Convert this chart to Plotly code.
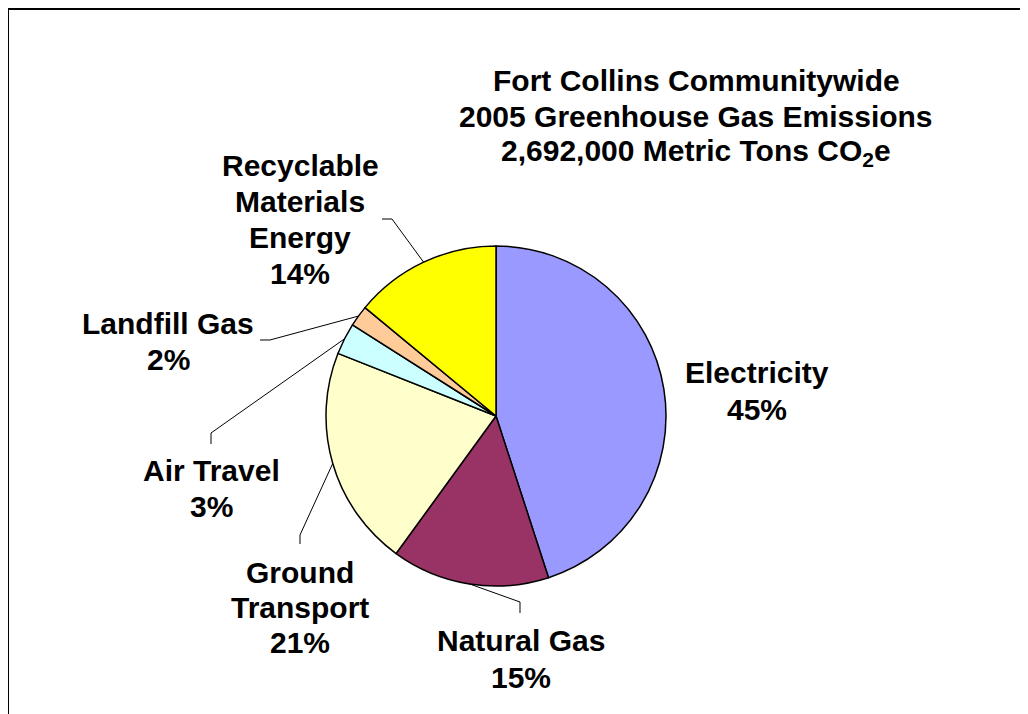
import math
import plotly.graph_objects as go

# ---- data ----
categories = ["Electricity", "Natural Gas", "Ground Transport", "Air Travel",
              "Landfill Gas", "Recyclable Materials Energy"]
shares = [45, 15, 21, 3, 2, 14]
label_lines = [["Electricity", "45%"], ["Natural Gas", "15%"], ["Ground", "Transport", "21%"],
               ["Air Travel", "3%"], ["Landfill Gas", "2%"],
               ["Recyclable", "Materials", "Energy", "14%"]]
colors = ["#9999FF", "#993366", "#FFFFCC", "#CCFFFF", "#FFCC99", "#FFFF00"]
title_lines = ["Fort Collins Communitywide", "2005 Greenhouse Gas Emissions",
               "2,692,000 Metric Tons CO<sub>2</sub>e"]

OFF = 8              # page body margin
W, H = 1020, 706     # figure size
CX, CY, R = 496, 416, 170  # pie center/radius in window pixels (layout)

def px(x):
    return (x - OFF) / W

def py(y):
    return 1 - (y - OFF) / H

# label layout: (center x, first-line y, line step, elbow points for leader line or None)
label_layout = [
    (757, 372, 37, None),
    (521, 640, 37, [(520, 602), (520, 613)]),
    (300, 572, 35, [(300, 535), (300, 544)]),
    (211, 470, 36, [(211, 433), (211, 444)]),
    (168, 323, 36, [(270, 340), (260, 340)]),
    (300, 165, 36, [(392, 219), (382, 219)]),
]

FONT = "Liberation Sans, Arial, sans-serif"
FS = 30

fig = go.Figure()
fig.add_trace(go.Pie(
    labels=categories, values=shares, sort=False, direction="clockwise", rotation=0,
    marker=dict(colors=colors, line=dict(color="black", width=1.5)),
    textinfo="none", hoverinfo="label+percent",
    domain=dict(x=[px(CX - R), px(CX + R)], y=[py(CY + R), py(CY - R)]),
    showlegend=False,
))

shapes = []
annotations = []

def add_text(txt, x, y):
    annotations.append(dict(text=f"<b>{txt}</b>", x=px(x), y=py(y), xref="paper", yref="paper",
                            showarrow=False, xanchor="center", yanchor="middle", align="center",
                            font=dict(family=FONT, size=FS, color="black")))

total = sum(shares)
cum = 0
for val, lines, (lx, ly, step, elbow) in zip(shares, label_lines, label_layout):
    mid = (cum + val / 2) / total * 2 * math.pi
    cum += val
    if elbow:
        sx = CX + R * math.sin(mid)
        sy = CY - R * math.cos(mid)
        pts = [(sx, sy)] + elbow
        path = "M " + " L ".join(f"{px(a):.5f},{py(b):.5f}" for a, b in pts)
        shapes.append(dict(type="path", path=path, xref="paper", yref="paper",
                           line=dict(color="black", width=1)))
    for i, t in enumerate(lines):
        add_text(t, lx, ly + i * step)

for i, t in enumerate(title_lines):
    add_text(t, 696, 80 + i * 36)

# outer border
shapes.append(dict(type="rect", xref="paper", yref="paper", x0=px(8), y0=-0.05, x1=1.05, y1=py(9),
                   line=dict(color="black", width=2)))

fig.update_layout(
    width=W, height=H, margin=dict(l=0, r=0, t=0, b=0),
    paper_bgcolor="white", plot_bgcolor="white",
    shapes=shapes, annotations=annotations, showlegend=False,
)

fig.write_html("out.html")
